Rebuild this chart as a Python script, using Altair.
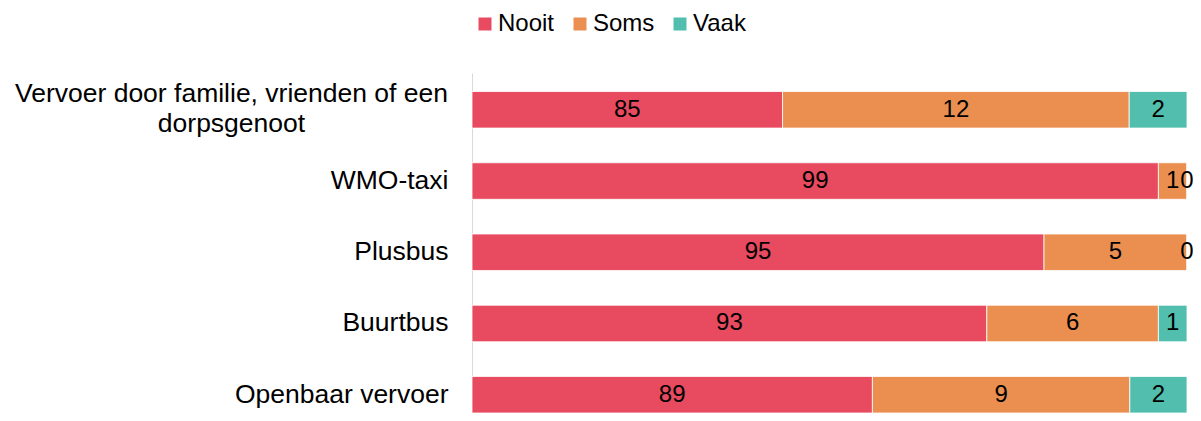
import altair as alt
import pandas as pd

categories = [
    "Vervoer door familie, vrienden of een\ndorpsgenoot",
    "WMO-taxi",
    "Plusbus",
    "Buurtbus",
    "Openbaar vervoer",
]
answers = ["Nooit", "Soms", "Vaak"]
nooit = [85, 99, 95, 93, 89]
soms = [12, 1, 5, 6, 9]
vaak = [2, 0, 0, 1, 2]
colors = ["#E84A5F", "#EB8F50", "#52BEAD"]
axis_min = 0.75
axis_max = 1.0

rows = []
for i, c in enumerate(categories):
    for j, (a, vals) in enumerate(zip(answers, [nooit, soms, vaak])):
        rows.append({"item": c, "answer": a, "order": j, "value": vals[i]})
df = pd.DataFrame(rows)

FONT = "Liberation Sans"
multi_test = "length(split(datum.value, '\\n')) > 1"

base = alt.Chart(df).transform_stack(
    stack="value",
    groupby=["item"],
    sort=[alt.SortField("order", "ascending")],
    as_=["x0", "x1"],
    offset="normalize",
).transform_calculate(
    mid=f"(max(datum.x0, {axis_min}) + datum.x1) / 2"
)

y_enc = alt.Y(
    "item:N",
    sort=categories,
    scale=alt.Scale(paddingInner=0.487, paddingOuter=0.13, align=1),
    axis=alt.Axis(
        title=None,
        domain=True,
        domainColor="#D9D9D9",
        domainWidth=1,
        ticks=False,
        grid=False,
        labelFont=FONT,
        labelFontSize=26.5,
        labelColor="black",
        labelLimit=1000,
        labelLineHeight=30,
        labelExpr="split(datum.value, '\\n')",
        labelAlign={"condition": {"test": multi_test, "value": "center"}, "value": "right"},
        labelPadding={"condition": {"test": multi_test, "value": 241}, "value": 24},
        labelOffset={"condition": {"test": multi_test, "value": -16}, "value": 0},
    ),
)

x_scale = alt.Scale(domain=[axis_min, axis_max], clamp=True, nice=False, zero=False)

bars = base.mark_bar(stroke="white", strokeWidth=0.8).encode(
    y=y_enc,
    x=alt.X("x0:Q", scale=x_scale, axis=None),
    x2="x1:Q",
    color=alt.Color(
        "answer:N",
        scale=alt.Scale(domain=answers, range=colors),
        legend=alt.Legend(
            orient="none",
            legendX=1,
            legendY=-61,
            direction="horizontal",
            title=None,
            symbolType="square",
            symbolSize=169,
            symbolStrokeWidth=0,
            labelFont=FONT,
            labelFontSize=24,
            labelColor="black",
            labelOffset=1,
            columnPadding=13,
            padding=0,
        ),
    ),
)

labels = base.mark_text(
    font=FONT, fontSize=24, color="black", align="center", baseline="middle"
).encode(
    y=alt.Y("item:N", sort=categories),
    x=alt.X("mid:Q", scale=x_scale, axis=None),
    text=alt.Text("value:Q"),
)

chart = alt.layer(bars, labels).properties(
    width=715,
    height=340,
    autosize=alt.AutoSizeParams(type="none"),
    padding={"left": 464, "top": 65, "right": 6, "bottom": 0},
).configure_view(stroke=None)

chart.save("out.html", embed_options={"renderer": "svg", "actions": False})
